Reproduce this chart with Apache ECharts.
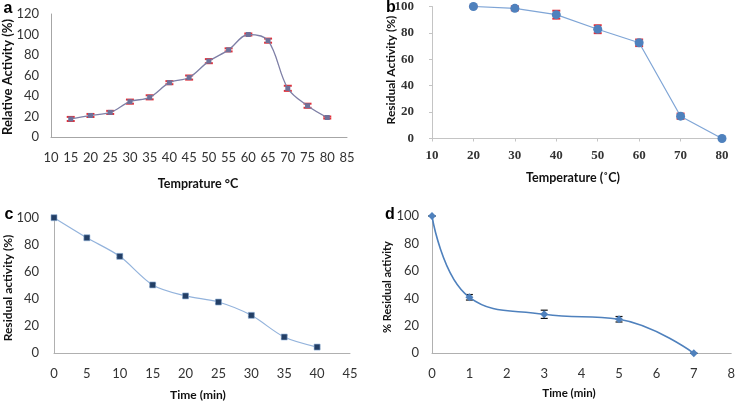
<!DOCTYPE html>
<html><head><meta charset="utf-8">
<script src="https://cdn.jsdelivr.net/npm/echarts@6/dist/echarts.min.js"></script>
<style>html,body{margin:0;padding:0;background:#fff}#c{width:738px;height:403px}</style>
</head><body><div id="c"></div>
<script>
// Panel a
var tempA = [15,20,25,30,35,40,45,50,55,60,65,70,75,80];
var actA  = [17.6,21,24,34.5,38.7,53,58,74,85,100,94,47.5,30.5,19];
var errA  = [2,1.5,1.5,2,2,1.5,2,2,1.5,1,2,2.5,2,1];
// Panel b
var tempB = [20,30,40,50,60,70,80];
var actB  = [100,98.6,93.8,82.8,72.5,16.9,0];
var errB  = [0.5,1.5,3,3,2.5,2,0];
// Panel c
var timeC = [0,5,10,15,20,25,30,35,40];
var actC  = [100,85.2,71.5,50.4,42.3,37.8,28,12,4.6];
var errC  = [0.5,1,1,1,1,1,1,1,0.8];
// Panel d
var timeD = [0,1,3,5,7];
var actD  = [100,40.8,28.4,24.8,0];
var errD  = [0,2,3,2,0];

var FONT = 'Lato, "Open Sans", sans-serif';
var SERIF = '"Liberation Serif", "DejaVu Serif", serif';
function pts(xs, ys){ return xs.map(function(x,i){return [x, ys[i]];}); }
function errs(xs, ys, es){ return xs.map(function(x,i){return [x, ys[i]-es[i], ys[i]+es[i]];}); }
function errSeries(idx, data, color, capW, lw){
  return {type:'custom', xAxisIndex:idx, yAxisIndex:idx, z:3, silent:true,
    renderItem:function(params, api){
      var lo = api.coord([api.value(0), api.value(1)]);
      var hi = api.coord([api.value(0), api.value(2)]);
      var st = {stroke:color, lineWidth:lw};
      return {type:'group', children:[
        {type:'line', shape:{x1:lo[0],y1:lo[1],x2:hi[0],y2:hi[1]}, style:st},
        {type:'line', shape:{x1:lo[0]-capW,y1:lo[1],x2:lo[0]+capW,y2:lo[1]}, style:st},
        {type:'line', shape:{x1:hi[0]-capW,y1:hi[1],x2:hi[0]+capW,y2:hi[1]}, style:st}
      ]};
    }, data:data};
}
function xAx(idx, min, max, iv, margin, font, size, weight, ticks, lc){
  return {type:'value', gridIndex:idx, min:min, max:max, interval:iv,
    axisLine:{lineStyle:{color:lc, width:1}}, axisTick:{show:!!ticks, length:3, lineStyle:{color:lc}},
    splitLine:{show:false},
    axisLabel:{margin:margin, color:'#333', fontFamily:font, fontSize:size, fontWeight:weight, showMinLabel:true, showMaxLabel:true}};
}
function yAx(idx, max, margin, font, size, weight, ticks, lc){
  return {type:'value', gridIndex:idx, min:0, max:max, interval:20,
    axisLine:{show:true, lineStyle:{color:lc}}, axisTick:{show:!!ticks, length:3, lineStyle:{color:lc}},
    splitLine:{show:false},
    axisLabel:{margin:margin, color:'#333', fontFamily:font, fontSize:size, fontWeight:weight}};
}
function txt(x, y, s, size, weight, rot){
  return {type:'text', x:x, y:y, rotation:rot||0,
    style:{text:s, fontFamily:FONT, fontSize:size, fontWeight:weight, fill:'#111', textAlign:'center', textVerticalAlign:'middle'}};
}
function letter(x, y, s){
  return {type:'text', x:x, y:y, style:{text:s, fontFamily:'"Liberation Sans", Arial, sans-serif', fontSize:16, fontWeight:'bold', fill:'#000', textAlign:'center', textVerticalAlign:'middle'}};
}

var chart = echarts.init(document.getElementById('c'), null, {renderer:'canvas'});
chart.setOption({
  animation:false,
  backgroundColor:'#fff',
  grid:[
    {left:51, top:14, width:296, height:123},
    {left:432, top:5.5, width:290, height:133},
    {left:54, top:217.7, width:296, height:135.6},
    {left:432, top:216, width:301, height:137.3}
  ],
  xAxis:[
    xAx(0,10,85,5,14,FONT,13,'normal',false,'#a6a6a6'),
    xAx(1,10,80,10,11,SERIF,13,'bold',true,'#c4c4c4'),
    xAx(2,0,45,5,14,FONT,13,'normal',false,'#b0b0b0'),
    xAx(3,0,8,1,14,FONT,13,'normal',false,'#b0b0b0')
  ],
  yAxis:[
    yAx(0,120,12,FONT,13,'normal',false,'#a6a6a6'),
    yAx(1,100,18,SERIF,13,'bold',true,'#c4c4c4'),
    yAx(2,100,15,FONT,13,'normal',false,'#b0b0b0'),
    yAx(3,100,13,FONT,13,'normal',false,'#b0b0b0')
  ],
  series:[
    {type:'line', xAxisIndex:0, yAxisIndex:0, data:pts(tempA, actA), smooth:0.35,
      lineStyle:{color:'#7e7fa6', width:1.3}, symbol:'rect', symbolSize:5,
      itemStyle:{color:'#6e7199'}, z:4},
    errSeries(0, errs(tempA, actA, errA), '#e0303a', 4, 2),
    {type:'line', xAxisIndex:1, yAxisIndex:1, data:pts(tempB, actB), smooth:false,
      lineStyle:{color:'#7fa5d6', width:1.2}, symbol:'circle', symbolSize:9,
      itemStyle:{color:'#4f81bd'}, z:4},
    errSeries(1, errs(tempB, actB, errB), '#e0303a', 4, 2),
    {type:'line', xAxisIndex:2, yAxisIndex:2, data:pts(timeC, actC), smooth:0.3,
      lineStyle:{color:'#93b3dc', width:1.2}, symbol:'rect', symbolSize:6,
      itemStyle:{color:'#233f66', borderColor:'#8fb0d8', borderWidth:0.6}, z:4},
    errSeries(2, errs(timeC, actC, errC), '#111', 3, 1),
    {type:'line', xAxisIndex:3, yAxisIndex:3, data:pts(timeD, actD), smooth:0.45,
      lineStyle:{color:'#4f81bd', width:1.6}, symbol:'diamond', symbolSize:8,
      itemStyle:{color:'#4f81bd'}, z:4},
    errSeries(3, errs(timeD, actD, errD), '#111', 3.5, 1.2)
  ],
  graphic:[
    letter(8, 9, 'a'), letter(391, 8, 'b'), letter(9, 215, 'c'), letter(390, 215, 'd'),
    txt(8, 77, 'Relative Activity (%)', 13, 'bold', Math.PI/2),
    txt(198, 184, 'Temprature °C', 12.5, 'bold'),
    txt(391, 70, 'Residual Activity (%)', 12, 'bold', Math.PI/2),
    txt(573, 178, 'Temperature (˚C)', 12.5, 'bold'),
    txt(8, 288, 'Residual activity (%)', 12, 'bold', Math.PI/2),
    txt(198, 395, 'Time (min)', 12, 'bold'),
    txt(387, 287, '% Residual activity', 11, 'bold', Math.PI/2),
    txt(569, 393, 'Time (min)', 11.5, 'bold')
  ]
});
</script></body></html>
